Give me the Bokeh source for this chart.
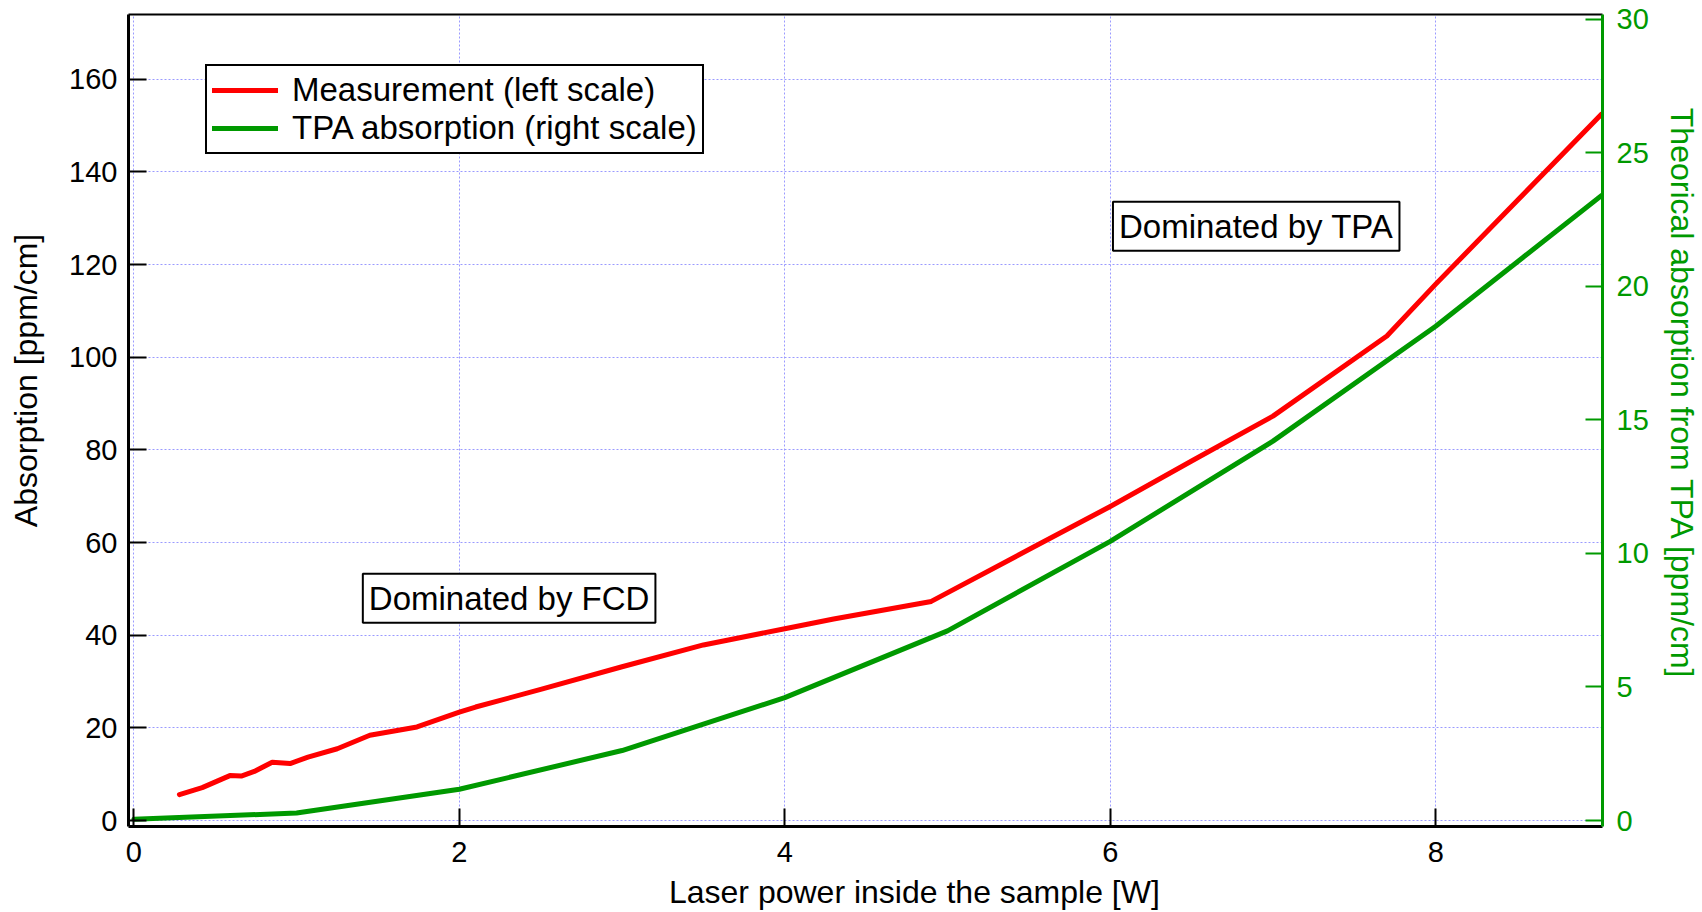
from bokeh.plotting import figure
from bokeh.models import Range1d, LinearAxis, FixedTicker, Label, Legend, LegendItem
from bokeh.embed import file_html
from bokeh.resources import INLINE

# ---- data ----
power_meas = [0.28, 0.42, 0.59, 0.66, 0.74, 0.85, 0.96, 1.07, 1.25, 1.45, 1.74, 2.0, 2.1,
              2.5, 3.0, 3.5, 4.0, 4.3, 4.9, 5.5, 6.0, 6.5, 7.0, 7.7, 8.0, 8.5, 9.02]
absorption_meas = [5.6, 7.1, 9.7, 9.6, 10.6, 12.6, 12.3, 13.7, 15.5, 18.4, 20.2, 23.4, 24.5,
                   28.3, 33.2, 37.9, 41.4, 43.5, 47.3, 58.5, 67.8, 77.6, 87.3, 104.6, 115.8, 133.8, 152.5]

power_tpa = [0.0, 1.0, 2.0, 3.0, 4.0, 5.0, 6.0, 7.0, 8.0, 9.02]
absorption_tpa = [0.05, 0.28, 1.17, 2.62, 4.6, 7.1, 10.45, 14.2, 18.5, 23.4]

x_ticks = [0, 2, 4, 6, 8]
left_ticks = [0, 20, 40, 60, 80, 100, 120, 140, 160]
right_ticks = [0, 5, 10, 15, 20, 25, 30]

annot_text = ["Dominated by TPA", "Dominated by FCD"]
annot_x = [6.897, 2.306]
annot_y = [128.3, 48.0]

x_title = "Laser power inside the sample [W]"
y_title = "Absorption [ppm/cm]"
y2_title = "Theorical absorption from TPA [ppm/cm]"

RED = "#ff0000"
GREEN = "#009900"
FONT = "Liberation Sans"
NB = "\u00a0"  # non-breaking spaces shift the titles off-centre as in the reference

p = figure(width=1702, height=912, output_backend="svg", toolbar_location=None,
           x_range=Range1d(-0.033, 9.025), y_range=Range1d(-1.29, 174.0),
           min_border_left=128, min_border_right=100, min_border_top=14, min_border_bottom=84,
           background_fill_color="white", border_fill_color="white")
p.outline_line_color = None
p.extra_y_ranges = {"right": Range1d(-0.224, 30.17)}

# grid
for g in (p.xgrid, p.ygrid):
    g.grid_line_color = "#9a9aff"
    g.grid_line_dash = "2 2"
    g.grid_line_width = 1
p.xgrid.ticker = FixedTicker(ticks=x_ticks)
p.ygrid.ticker = FixedTicker(ticks=left_ticks)

xa = p.xaxis[0]
xa.ticker = FixedTicker(ticks=x_ticks)
xa.axis_label = NB * 11 + x_title
ya = p.yaxis[0]
ya.ticker = FixedTicker(ticks=left_ticks)
ya.axis_label = NB * 9 + y_title

for ax in (xa, ya):
    ax.axis_line_color = "black"
    ax.axis_line_width = 3
    ax.major_tick_line_color = "black"
    ax.major_tick_line_width = 2
    ax.major_tick_in = 18
    ax.major_tick_out = 0
    ax.minor_tick_line_color = None
    ax.major_label_text_font = FONT
    ax.major_label_text_font_size = "29px"
    ax.major_label_text_color = "black"
    ax.axis_label_text_font = FONT
    ax.axis_label_text_font_size = "32px"
    ax.axis_label_text_font_style = "normal"
    ax.axis_label_text_color = "black"
xa.major_label_standoff = 15
xa.axis_label_standoff = 9
ya.major_label_standoff = 11
ya.axis_label_standoff = 22

# right axis
ra = LinearAxis(y_range_name="right", ticker=FixedTicker(ticks=right_ticks),
                axis_label=y2_title + NB * 6)
ra.axis_line_color = GREEN
ra.axis_line_width = 3
ra.major_tick_line_color = GREEN
ra.major_tick_line_width = 2
ra.major_tick_in = 17
ra.major_tick_out = 0
ra.minor_tick_line_color = None
ra.major_label_text_font = FONT
ra.major_label_text_font_size = "29px"
ra.major_label_text_color = GREEN
ra.major_label_standoff = 14
ra.axis_label_text_font = FONT
ra.axis_label_text_font_size = "32px"
ra.axis_label_text_font_style = "normal"
ra.axis_label_text_color = GREEN
ra.axis_label_standoff = 12
p.add_layout(ra, "right")

# top border (plain line)
ta = LinearAxis(ticker=FixedTicker(ticks=[]), axis_line_color="black", axis_line_width=2,
                major_label_text_font_size="0px", major_tick_line_color=None,
                minor_tick_line_color=None)
p.add_layout(ta, "above")

# lines
r1 = p.line(power_meas, absorption_meas, line_color=RED, line_width=5, line_join="round", line_cap="round")
r2 = p.line(power_tpa, absorption_tpa, line_color=GREEN, line_width=5, line_join="round", line_cap="round",
            y_range_name="right")

# annotations
for t, x, y in zip(annot_text, annot_x, annot_y):
    p.add_layout(Label(x=x, y=y, text=t, text_align="center", text_baseline="middle",
                       text_font=FONT, text_font_size="33px", text_color="black",
                       background_fill_color="white", border_line_color="black",
                       border_line_width=2, padding=6))

legend = Legend(items=[LegendItem(label="Measurement (left scale)", renderers=[r1]),
                       LegendItem(label="TPA absorption (right scale)", renderers=[r2])],
                location=(77, 672), orientation="vertical",
                label_text_font=FONT, label_text_font_size="33px", label_text_color="black",
                border_line_color="black", border_line_width=2, border_line_alpha=1,
                background_fill_color="white", background_fill_alpha=1,
                padding=5, spacing=0, margin=0, glyph_width=66, label_standoff=14)
p.add_layout(legend)

open("out.html", "w").write(file_html(p, INLINE))
